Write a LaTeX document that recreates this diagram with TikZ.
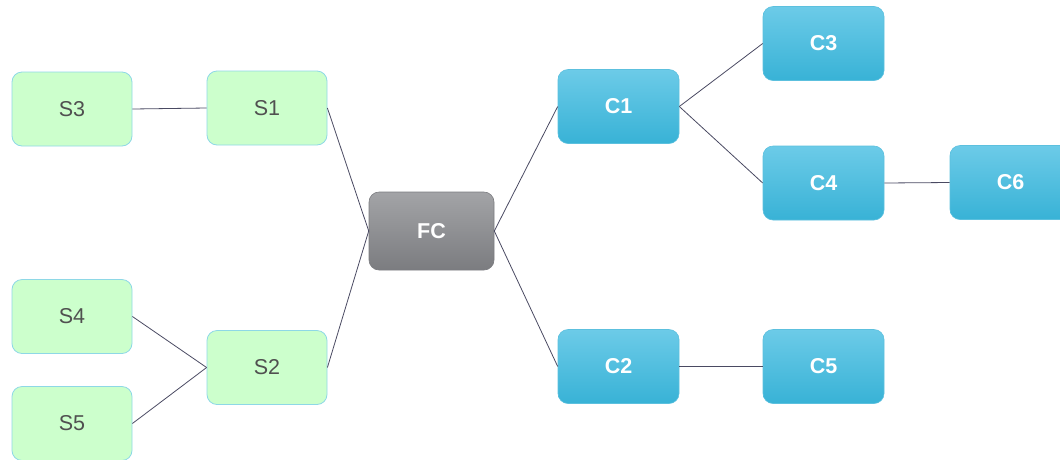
\documentclass[tikz,border=0pt]{standalone}
\usepackage{fontspec}
\setmainfont{Liberation Sans}
\definecolor{sfill}{HTML}{CCFFCC}
\definecolor{sdraw}{HTML}{8ED8E6}
\definecolor{btop}{HTML}{6CCBE8}
\definecolor{bbot}{HTML}{38B2D6}
\definecolor{bdraw}{HTML}{5CC0DE}
\definecolor{gtop}{HTML}{A3A4A7}
\definecolor{gbot}{HTML}{7B7C80}
\definecolor{link}{HTML}{4A4A62}
\definecolor{stext}{HTML}{505050}
\tikzset{
  box/.style={rounded corners=10pt, minimum width=120pt, minimum height=74pt, inner sep=0pt, font=\fontsize{21.5}{24}\selectfont},
  sbox/.style={box, fill=sfill, draw=sdraw, line width=0.8pt, text=stext},
  cbox/.style={box, top color=btop, bottom color=bbot, draw=bdraw, line width=0.6pt, text=white, font=\fontsize{21.5}{24}\selectfont\bfseries},
  fbox/.style={box, minimum width=125pt, minimum height=78pt, top color=gtop, bottom color=gbot, draw=gbot, line width=0.6pt, text=white, font=\fontsize{21.5}{24}\selectfont\bfseries},
  lk/.style={draw=link, line width=0.8pt}
}
\begin{document}
\begin{tikzpicture}[x=1pt,y=-1pt]
\useasboundingbox (0,0) rectangle (1060,459);
\clip (0,0) rectangle (1060,459);
\node[sbox] (s3) at (72,109) {S3};
\node[sbox] (s1) at (267,108) {S1};
\node[sbox] (s4) at (72,316.5) {S4};
\node[sbox] (s5) at (72,423.5) {S5};
\node[sbox] (s2) at (267,367.5) {S2};
\node[fbox] (fc) at (431.5,231) {FC};
\node[cbox,minimum width=121pt] (c1) at (618.5,106.5) {C1};
\node[cbox,minimum width=121pt] (c2) at (618.5,366.5) {C2};
\node[cbox,minimum width=121pt] (c3) at (823.5,43.5) {C3};
\node[cbox,minimum width=121pt] (c4) at (823.5,183) {C4};
\node[cbox,minimum width=121pt] (c5) at (823.5,366.5) {C5};
\node[cbox,minimum width=121pt] (c6) at (1010.5,182.5) {C6};
\draw[lk] (s3.east) -- (s1.west);
\draw[lk] (s4.east) -- (s2.west);
\draw[lk] (s5.east) -- (s2.west);
\draw[lk] (s1.east) -- (fc.west);
\draw[lk] (s2.east) -- (fc.west);
\draw[lk] (fc.east) -- (c1.west);
\draw[lk] (fc.east) -- (c2.west);
\draw[lk] (c1.east) -- (c3.west);
\draw[lk] (c1.east) -- (c4.west);
\draw[lk] (c4.east) -- (c6.west);
\draw[lk] (c2.east) -- (c5.west);
\end{tikzpicture}
\end{document}
